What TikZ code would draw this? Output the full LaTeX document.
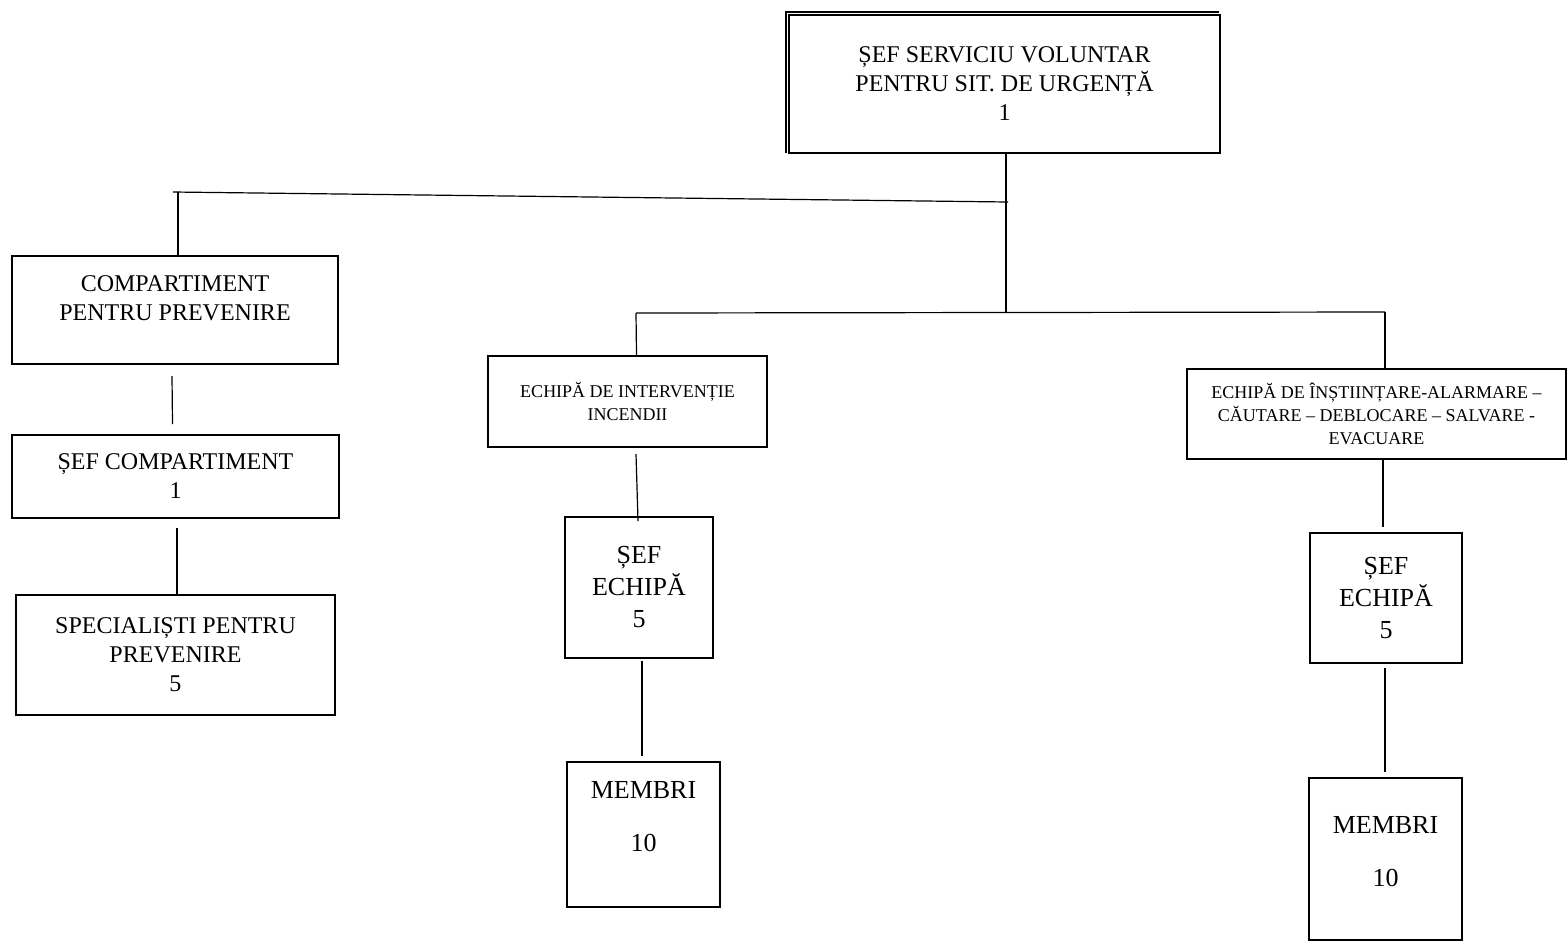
\documentclass[tikz,border=0pt]{standalone}
\usepackage{fontspec}
\setmainfont{Liberation Serif}

\begin{document}
\begin{tikzpicture}[x=0.5pt,y=-0.5pt,
	unitbox/.style={draw,line width=1pt,inner sep=0pt,align=center,
		font=\fontsize{12}{14.5}\selectfont},
	smalltxt/.style={font=\fontsize{9}{11.5}\selectfont},
	bigtxt/.style={font=\fontsize{13}{16}\selectfont},
	link/.style={line width=0.6pt}]
		\useasboundingbox (0,0) rectangle (1567,943);
		% top
		\node[unitbox,minimum width=215.5pt,minimum height=69pt] (sef) at (1004.5,84)
		{ȘEF SERVICIU VOLUNTAR\\PENTRU SIT. DE URGENȚĂ\\1};
		\draw[line width=1pt] ([shift={(-2.5,-1)}]sef.south west) -- ([shift={(-2.5,-2.5)}]sef.north west)
		-- ([shift={(-2,-2.5)}]sef.north east);
		% compartment
		\node[unitbox,minimum width=163pt,minimum height=54pt,text depth=12pt] (cmp) at (175,310)
		{COMPARTIMENT\\PENTRU PREVENIRE};
		\node[unitbox,minimum width=163.5pt,minimum height=41.5pt] (sefcmp) at (175.5,476.5)
		{ȘEF COMPARTIMENT\\1};
		\node[unitbox,minimum width=159.5pt,minimum height=60pt] (spec) at (175.5,655)
		{SPECIALIȘTI PENTRU\\PREVENIRE\\5};
		% fire team
		\node[unitbox,smalltxt,minimum width=139.5pt,minimum height=45.5pt] (ei) at (627.5,401.5)
		{ECHIPĂ DE INTERVENȚIE\\INCENDII};
		\node[unitbox,bigtxt,minimum width=74pt,minimum height=70.5pt] (sefe1) at (639,587.5)
		{ȘEF\\ECHIPĂ\\5};
		\node[unitbox,bigtxt,minimum width=76.5pt,minimum height=72.5pt,text depth=18pt] (membri1) at (643.5,834.5)
		{MEMBRI\\[10.5pt]10};
		% alarm team
		\node[unitbox,smalltxt,minimum width=189.5pt,minimum height=45pt] (er) at (1376.5,414)
		{ECHIPĂ DE ÎNȘTIINȚARE-ALARMARE –\\CĂUTARE – DEBLOCARE – SALVARE -\\EVACUARE};
		\node[unitbox,bigtxt,minimum width=76pt,minimum height=65pt] (sefe2) at (1386,598)
		{ȘEF\\ECHIPĂ\\5};
		\node[unitbox,bigtxt,minimum width=76.5pt,minimum height=81pt,text depth=7.5pt] (membri2) at (1385.5,859)
		{MEMBRI\\[10.5pt]10};
		% lines
		\coordinate (hl) at (173,192);
		\coordinate (hr) at (1008,202);
		\coordinate (jm) at (1006,312);
		\coordinate (ml) at (636,313);
		\coordinate (mr) at (1385,312);
		\draw[link] (hl) -- (hr);
		\draw[link] (jm |- sef.south) -- (jm);
		\draw[link] ([xshift=1.5pt]cmp.north) -- ++(0,-63);
		\draw[link] (ml) -- (mr);
		\draw[link] (ml) -- ([shift={(9,0)}]ei.north);
		\draw[link] (mr) -- (mr |- er.north);
		\draw[link] ([shift={(-3,11)}]cmp.south) -- ([shift={(-3,-10)}]sefcmp.north);
		\draw[link] ([shift={(1.5,9)}]sefcmp.south) -- ([shift={(1.5,0)}]spec.north);
		\draw[link] ([shift={(8.5,6)}]ei.south) -- ([shift={(-1,5)}]sefe1.north);
		\draw[link] ([shift={(3,2)}]sefe1.south) -- ([shift={(-1.5,-5)}]membri1.north);
		\draw[link] ([shift={(6.5,0)}]er.south) -- ([shift={(-3,-5)}]sefe2.north);
		\draw[link] ([shift={(-1,4)}]sefe2.south) -- ([shift={(-0.5,-5)}]membri2.north);
	\end{tikzpicture}
\end{document}
